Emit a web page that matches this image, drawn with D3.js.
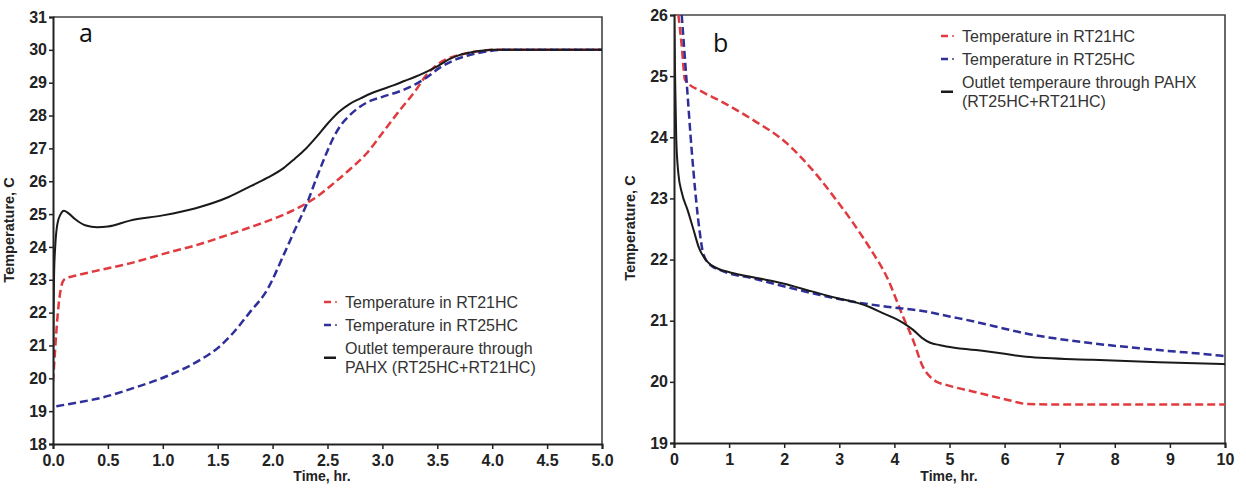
<!DOCTYPE html>
<html><head><meta charset="utf-8">
<script src="https://cdn.jsdelivr.net/npm/d3@7"></script>
<style>
body{margin:0;background:#fff;}
svg{display:block;font-family:"Liberation Sans",Arial,sans-serif;}
</style></head>
<body><svg id="c" width="1246" height="492"></svg>
<script>
// ---------- Panel a data (time, hr / temperature, C) ----------
const aOutletT = [0,0.005,0.01,0.02,0.04,0.07,0.1,0.15,0.2,0.3,0.4,0.5,0.7,1.0,1.3,1.6,1.8,1.95,2.1,2.2,2.3,2.4,2.5,2.6,2.7,2.8,2.9,3.0,3.1,3.2,3.3,3.4,3.5,3.6,3.7,3.8,3.9,4.0,4.2,5.0];
const aOutletV = [20.0,22.0,23.2,24.0,24.7,25.0,25.1,25.0,24.85,24.65,24.6,24.62,24.8,24.96,25.18,25.52,25.85,26.1,26.4,26.68,26.98,27.35,27.75,28.1,28.35,28.52,28.68,28.8,28.92,29.05,29.18,29.33,29.5,29.7,29.84,29.92,29.97,30.0,30.0,30.0];

const aRT21T = [0,0.01,0.03,0.05,0.07,0.09,0.12,0.2,0.43,0.7,1.04,1.3,1.64,1.9,2.1,2.25,2.4,2.55,2.7,2.86,3.0,3.16,3.3,3.4,3.52,3.61,3.77,3.9,4.0,4.2,5.0];
const aRT21V = [19.9,20.4,21.4,22.2,22.7,22.95,23.05,23.12,23.3,23.5,23.82,24.05,24.42,24.72,24.98,25.22,25.52,25.92,26.35,26.86,27.47,28.17,28.75,29.23,29.6,29.75,29.9,29.97,30.0,30.0,30.0];

const aRT25T = [0.03,0.2,0.43,0.73,1.04,1.34,1.5,1.64,1.79,1.95,2.1,2.2,2.31,2.4,2.49,2.55,2.62,2.7,2.86,3.0,3.16,3.3,3.4,3.52,3.65,3.77,3.95,4.1,5.0];
const aRT25V = [19.15,19.25,19.4,19.7,20.07,20.56,20.92,21.38,22.0,22.69,23.75,24.5,25.3,26.1,26.85,27.3,27.7,28.0,28.4,28.57,28.74,28.95,29.15,29.45,29.68,29.82,29.95,30.0,30.0];

// ---------- Panel b data ----------
const bOutletT = [0,0.02,0.04,0.08,0.14,0.25,0.35,0.45,0.6,0.8,1.02,1.5,1.98,2.5,2.95,3.3,3.56,3.8,3.98,4.15,4.34,4.5,4.65,4.83,4.94,5.48,6.0,6.39,7.6,8.8,10];
const bOutletV = [26.2,25.0,24.0,23.4,23.1,22.8,22.5,22.2,21.97,21.85,21.79,21.7,21.61,21.48,21.37,21.3,21.22,21.12,21.05,20.97,20.85,20.72,20.64,20.6,20.58,20.52,20.46,20.41,20.36,20.32,20.29];

const bRT21T = [0.08,0.14,0.2,0.5,0.83,1.44,2.05,2.35,2.65,2.95,3.25,3.56,3.86,4.16,4.34,4.52,4.65,4.77,4.94,5.48,6.08,6.39,7.0,10];
const bRT21V = [26.0,25.5,24.94,24.75,24.6,24.28,23.9,23.63,23.32,22.97,22.6,22.18,21.72,21.06,20.68,20.24,20.08,20.0,19.95,19.83,19.7,19.64,19.63,19.63];

const bRT25T = [0.14,0.23,0.32,0.47,0.53,0.65,0.83,1.44,2.05,2.65,3.25,3.86,4.57,5.0,5.48,6.0,6.39,7.0,7.6,8.8,9.9,10];
const bRT25V = [26.0,24.9,23.8,22.43,22.1,21.92,21.83,21.69,21.55,21.42,21.31,21.23,21.15,21.07,20.98,20.87,20.79,20.7,20.63,20.52,20.43,20.42];

const aXTicks = [0,0.5,1.0,1.5,2.0,2.5,3.0,3.5,4.0,4.5,5.0];
const aYTicks = [18,19,20,21,22,23,24,25,26,27,28,29,30,31];
const bXTicks = [0,1,2,3,4,5,6,7,8,9,10];
const bYTicks = [19,20,21,22,23,24,25,26];

const legendLabels = ["Temperature in RT21HC","Temperature in RT25HC"];
const xLabel = "Time, hr.";
const yLabel = "Temperature, C";

const RED = "#e03a3e", BLUE = "#2e2f98", BLACK = "#1a1a1a";
const svg = d3.select("#c");

function zip(t,v){return t.map((d,i)=>[d,v[i]]);}

function panel(cfg){
  const g = svg.append("g");
  const x = d3.scaleLinear().domain(cfg.xd).range([cfg.x0,cfg.x1]);
  const y = d3.scaleLinear().domain(cfg.yd).range([cfg.y1,cfg.y0]);
  const cid = "clip"+cfg.id;
  svg.append("clipPath").attr("id",cid).append("rect")
    .attr("x",cfg.x0).attr("y",cfg.y0).attr("width",cfg.x1-cfg.x0).attr("height",cfg.y1-cfg.y0);
  g.append("path").attr("d",`M${cfg.x0},${cfg.y0}H${cfg.x1}V${cfg.y1}`)
    .attr("fill","none").attr("stroke","#444").attr("stroke-width",1.6);
  const line = d3.line().x(d=>x(d[0])).y(d=>y(d[1])).curve(d3.curveMonotoneX);
  const lg = g.append("g").attr("clip-path",`url(#${cid})`);
  cfg.series.forEach(s=>{
    lg.append("path").datum(zip(s.t,s.v)).attr("d",line).attr("fill","none")
      .attr("stroke",s.c).attr("stroke-width",s.w)
      .attr("stroke-dasharray",s.dash||null);
  });
  const xa = g.append("g").attr("transform",`translate(0,${cfg.y1})`);
  xa.call(d3.axisBottom(x).tickValues(cfg.xMinor).tickSize(3).tickFormat(""));
  xa.call(d3.axisBottom(x).tickValues(cfg.xt).tickSize(5).tickPadding(6).tickFormat(cfg.xf));
  const ya = g.append("g").attr("transform",`translate(${cfg.x0},0)`);
  if(cfg.yMinor) ya.call(d3.axisLeft(y).tickValues(cfg.yMinor).tickSize(3).tickFormat(""));
  ya.call(d3.axisLeft(y).tickValues(cfg.yt).tickSize(4).tickPadding(2).tickFormat(d3.format("d")));
  [xa,ya].forEach(a=>{
    a.attr("font-size",16);
    a.selectAll(".domain").attr("stroke","#222").attr("stroke-width",2);
    a.selectAll(".tick line").attr("stroke","#222").attr("stroke-width",1.5);
    a.selectAll("text").style("font-size","16px").attr("font-weight","bold").attr("fill","#222")
      .attr("font-family","'Liberation Sans',Arial,sans-serif");
  });
  g.append("text").attr("x",cfg.xlx).attr("y",481).attr("text-anchor","middle")
    .attr("font-size",14).attr("font-weight","bold").attr("fill","#222").text(xLabel);
  g.append("text").attr("transform",`translate(${cfg.ylx},${cfg.yly}) rotate(-90)`)
    .attr("text-anchor","middle").attr("font-size",14.5).attr("font-weight","bold").attr("fill","#222").text(yLabel);
  g.append("text").attr("x",cfg.lx).attr("y",cfg.ly).attr("font-size",25)
    .attr("font-family","'Open Sans',sans-serif").attr("fill","#111").text(cfg.letter);
  const L = cfg.leg;
  const rows = [{c:RED,lines:[legendLabels[0]],dash:true},{c:BLUE,lines:[legendLabels[1]],dash:true},{c:BLACK,lines:cfg.outletLines,dash:false}];
  const ys = [L.y, L.y+23, L.y+46];
  rows.forEach((r,i)=>{
    r.lines.forEach((tx,j)=>{
      g.append("text").attr("x",L.tx).attr("y",ys[i]+j*19.5).attr("dy","0.35em")
        .attr("font-size",16).attr("fill","#333").text(tx);
    });
    const sy = ys[i] + (r.lines.length-1)*19.5/2;
    if(r.dash){
      g.append("line").attr("x1",L.sx).attr("x2",L.sx+7).attr("y1",sy).attr("y2",sy)
        .attr("stroke",r.c).attr("stroke-width",2.5);
      g.append("line").attr("x1",L.sx+11).attr("x2",L.sx+13).attr("y1",sy).attr("y2",sy)
        .attr("stroke",r.c).attr("stroke-width",2).attr("opacity",0.7);
    } else {
      g.append("line").attr("x1",L.sx).attr("x2",L.sx+12).attr("y1",sy).attr("y2",sy)
        .attr("stroke",r.c).attr("stroke-width",2.5);
    }
  });
}

panel({id:"a",x0:53,x1:602,y0:17,y1:444,xd:[0,5],yd:[18,31],
  xt:aXTicks, xMinor:d3.range(0.25,5,0.5), xf:d3.format(".1f"),
  yt:aYTicks, yMinor:d3.range(18.5,31,1),
  xlx:322, ylx:14, yly:230, lx:79, ly:42, letter:"a",
  leg:{sx:324,tx:345,y:302}, outletLines:["Outlet temperaure through","PAHX (RT25HC+RT21HC)"],
  series:[
    {t:aRT21T,v:aRT21V,c:RED,w:2.5,dash:"8,4"},
    {t:aRT25T,v:aRT25V,c:BLUE,w:2.5,dash:"8,4"},
    {t:aOutletT,v:aOutletV,c:BLACK,w:2}
  ]});

panel({id:"b",x0:674,x1:1225,y0:15,y1:443,xd:[0,10],yd:[19,26],
  xt:bXTicks, xMinor:d3.range(0.5,10,1), xf:d3.format("d"),
  yt:bYTicks, yMinor:null,
  xlx:949, ylx:635, yly:228, lx:713, ly:52, letter:"b",
  leg:{sx:941,tx:962,y:36}, outletLines:["Outlet temperaure through PAHX","(RT25HC+RT21HC)"],
  series:[
    {t:bRT21T,v:bRT21V,c:RED,w:2.5,dash:"8,4"},
    {t:bRT25T,v:bRT25V,c:BLUE,w:2.5,dash:"8,4"},
    {t:bOutletT,v:bOutletV,c:BLACK,w:2}
  ]});
</script></body></html>
